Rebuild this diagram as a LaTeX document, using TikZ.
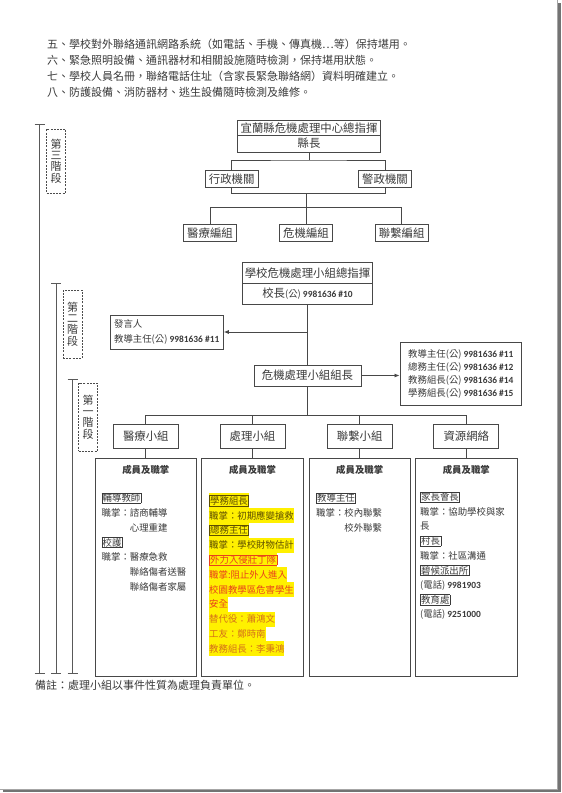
\documentclass[tikz,border=0pt]{standalone}
\usepackage{fontspec}
\setmainfont{Noto Sans CJK TC}
\newfontfamily\digfont{Carlito}
\usetikzlibrary{arrows.meta}
\definecolor{ink}{HTML}{3A3A3A}
\definecolor{frame}{HTML}{484848}
\definecolor{hl}{HTML}{FFF000}
\definecolor{hlolive}{HTML}{5E4E00}
\definecolor{hlred}{HTML}{E8401C}
\definecolor{hlorg}{HTML}{D4701A}
\newcommand\dig[1]{{\digfont\bfseries #1}}
\newcommand\wbox[1]{{\setlength\fboxsep{0.5pt}\setlength\fboxrule{0.5pt}\fbox{#1}}}
\newcommand\bodysz{\fontsize{11}{13}\selectfont}
\newcommand\notesz{\fontsize{11}{13}\selectfont}
\newcommand\chartsz{\fontsize{11.4}{13}\selectfont}
\newcommand\listsz{\fontsize{9.4}{14.3}\selectfont}
\newcommand\tightsz{\fontsize{9.4}{13.3}\selectfont}
\newcommand\stagesz{\fontsize{11}{11.3}\selectfont}

\begin{document}
\begin{tikzpicture}[x=1pt,y=-1pt,
	wire/.style={draw=frame,line width=0.8pt},
	arrowline/.style={wire,-{Latex[length=5pt,width=4pt]}},
	rail/.style={draw=black!65,line width=0.9pt},
	box/.style={draw=frame,line width=0.8pt,inner sep=0pt,text=ink,font=\chartsz},
	stage/.style={draw=black!70,dashed,dash pattern=on 2pt off 1.2pt,line width=0.8pt,inner sep=0pt,minimum width=19pt,align=center,text=ink,font=\stagesz},
	body/.style={anchor=west,inner sep=0pt,text=ink,font=\bodysz},
	item/.style={anchor=west,inner sep=0pt,minimum height=14.7pt,text=ink,font=\listsz},
	hlline/.style={item,fill=hl,minimum height=14.8pt},
	head/.style={inner sep=0pt,text=ink,font=\listsz\bfseries},
	pageshadow/.style={fill=black!55}]
	\path[use as bounding box,fill=white] (0,0) rectangle (562,793);
	\node[body] (l5) at (47,44) {五、學校對外聯絡通訊網路系統（如電話、手機、傳真機…等）保持堪用。};
	\node[body] (l6) at (47,60.3) {六、緊急照明設備、通訊器材和相關設施隨時檢測，保持堪用狀態。};
	\node[body] (l7) at (47,76.3) {七、學校人員名冊，聯絡電話住址（含家長緊急聯絡網）資料明確建立。};
	\node[body] (l8) at (47,92.3) {八、防護設備、消防器材、逃生設備隨時檢測及維修。};
	\foreach \x/\y in {39.5/124,56/283,72.5/379.5}
		\draw[rail] ({\x-5},\y) -- ({\x+5},\y) (\x,\y) -- (\x,673) ({\x-5},673) -- ({\x+5},673);
	\node[stage,minimum height=64pt] (s3) at (56,161) {第\\三\\階\\段};
	\node[stage,minimum height=68pt] (s2) at (72.5,324) {第\\二\\階\\段};
	\node[stage,minimum height=68pt] (s1) at (88,417) {第\\一\\階\\段};
	\node[box,minimum width=143pt,minimum height=14.5pt] (cnty) at (309,128) {宜蘭縣危機處理中心總指揮};
	\node[box,minimum width=143pt,minimum height=16.7pt] (mayor) at (309,143.6) {縣長};
	\node[box,minimum width=53.3pt,minimum height=17.3pt] (admin) at (231.7,178.7) {行政機關};
	\node[box,minimum width=53.3pt,minimum height=17.3pt] (police) at (385,178.7) {警政機關};
	\node[box,minimum width=53.3pt,minimum height=17.3pt] (medt) at (210,233) {醫療編組};
	\node[box,minimum width=53.3pt,minimum height=17.3pt] (crit) at (306,233) {危機編組};
	\node[box,minimum width=53.3pt,minimum height=17.3pt] (liat) at (401.7,233) {聯繫編組};
	\coordinate (j1) at (309,160);
	\coordinate (j2) at (306,193.3);
	\coordinate (j3) at (306,207.3);
	\draw[wire] (mayor.south) -- (j1);
	\draw[wire] (admin.north) |- (j1) -| (police.north);
	\draw[wire] (admin.south) |- (j2) -| (police.south);
	\draw[wire] (j2) -- (j3);
	\draw[wire] (medt.north) |- (j3) -| (liat.north);
	\draw[wire] (crit.north) -- (j3);
	\node[box,minimum width=130pt,minimum height=20.6pt] (sch) at (307.5,273) {學校危機處理小組總指揮};
	\node[box,minimum width=130pt,minimum height=20.7pt] (prin) at (307.5,293.6) {校長{\listsz(公) \dig{9981636 \#10}}};
	\node[box,minimum width=113.3pt,minimum height=34pt,align=left,font=\listsz] (spk) at (166.7,332) {發言人\\教導主任(公) \dig{9981636 \#11}};
	\node[box,minimum width=107pt,minimum height=21pt] (lead) at (307.5,375.5) {危機處理小組組長};
	\node[box,minimum width=121.7pt,minimum height=62.3pt,align=left,font=\tightsz] (lst) at (460.8,374) {教導主任(公) \dig{9981636 \#11}\\總務主任(公) \dig{9981636 \#12}\\教務組長(公) \dig{9981636 \#14}\\學務組長(公) \dig{9981636 \#15}};
	\draw[wire] (prin.south) -- (lead.north);
	\draw[arrowline] (prin.south |- spk.east) -- (spk.east);
	\draw[arrowline] (lead.east) -- (lead.east -| lst.west);
	\node[box,minimum width=65pt,minimum height=23.4pt] (g1) at (145.8,436.5) {醫療小組};
	\node[box,minimum width=65pt,minimum height=23.4pt] (g2) at (252.5,436.5) {處理小組};
	\node[box,minimum width=65pt,minimum height=23.4pt] (g3) at (359.7,436.5) {聯繫小組};
	\node[box,minimum width=65pt,minimum height=23.4pt] (g4) at (466.3,436.5) {資源網絡};
	\coordinate (j4) at (307.5,415.7);
	\draw[wire] (lead.south) -- (j4);
	\draw[wire] (g1.north) |- (j4) -| (g4.north);
	\draw[wire] (g2.north) |- (j4);
	\draw[wire] (g3.north) |- (j4);
	\node[box,minimum width=101.5pt,minimum height=218.2pt] (d1) at (145.8,567.6) {};
	\node[box,minimum width=101.5pt,minimum height=218.2pt] (d2) at (252.5,567.6) {};
	\node[box,minimum width=101.5pt,minimum height=218.2pt] (d3) at (359.7,567.6) {};
	\node[box,minimum width=101.5pt,minimum height=218.2pt] (d4) at (466.3,567.6) {};
	\foreach \i in {1,...,4} {
		\draw[wire] (g\i.south) -- (d\i.north);
		\node[head] (h\i) at ([yshift=-11.7pt]d\i.north) {成員及職掌};
	}
	\foreach \t [count=\i] in {{\wbox{輔導教師}},職掌：諮商輔導,{\hspace*{3em}心理重建},{\wbox{校護}},職掌：醫療急救,{\hspace*{3em}聯絡傷者送醫},{\hspace*{3em}聯絡傷者家屬}}
		\node[item] (a\i) at (101.5,{498.3+14.7*(\i-1)}) {\t};
	\foreach \t/\c [count=\i] in {{\wbox{學務組長}}/hlolive,職掌：初期應變搶救/hlolive,{\wbox{總務主任}}/hlolive,職掌：學校財物估計/hlolive,{\wbox{外力入侵壯丁隊}}/hlred,職掌:阻止外人進入/hlred,校園教學區危害學生/hlred,安全/hlred,替代役：蕭鴻文/hlorg,工友：鄭時南/hlorg,教務組長：李秉鴻/hlorg}
		\node[hlline,text=\c] (b\i) at (209,{500.7+14.8*(\i-1)}) {\t};
	\foreach \t [count=\i] in {{\wbox{教導主任}},職掌：校內聯繫,{\hspace*{3em}校外聯繫}}
		\node[item] (c\i) at (316,{498.3+14.7*(\i-1)}) {\t};
	\foreach \t [count=\i] in {{\wbox{家長會長}},職掌：協助學校與家,長,{\wbox{村長}},職掌：社區溝通,{\wbox{碧候派出所}},{(電話) \dig{9981903}},{\wbox{教育處}},{(電話) \dig{9251000}}}
		\node[item] (e\i) at (420,{497+14.7*(\i-1)}) {\t};
	\node[body,font=\notesz] (note) at (35,685.7) {備註：處理小組以事件性質為處理負責單位。};
	\draw[black!35,line width=0.8pt] (557,0) -- (557,789) -- (0,789);
	\fill[pageshadow] (558.3,3) rectangle (560.6,792);
	\fill[pageshadow] (3,790.2) rectangle (560.6,792);
\end{tikzpicture}
\end{document}
